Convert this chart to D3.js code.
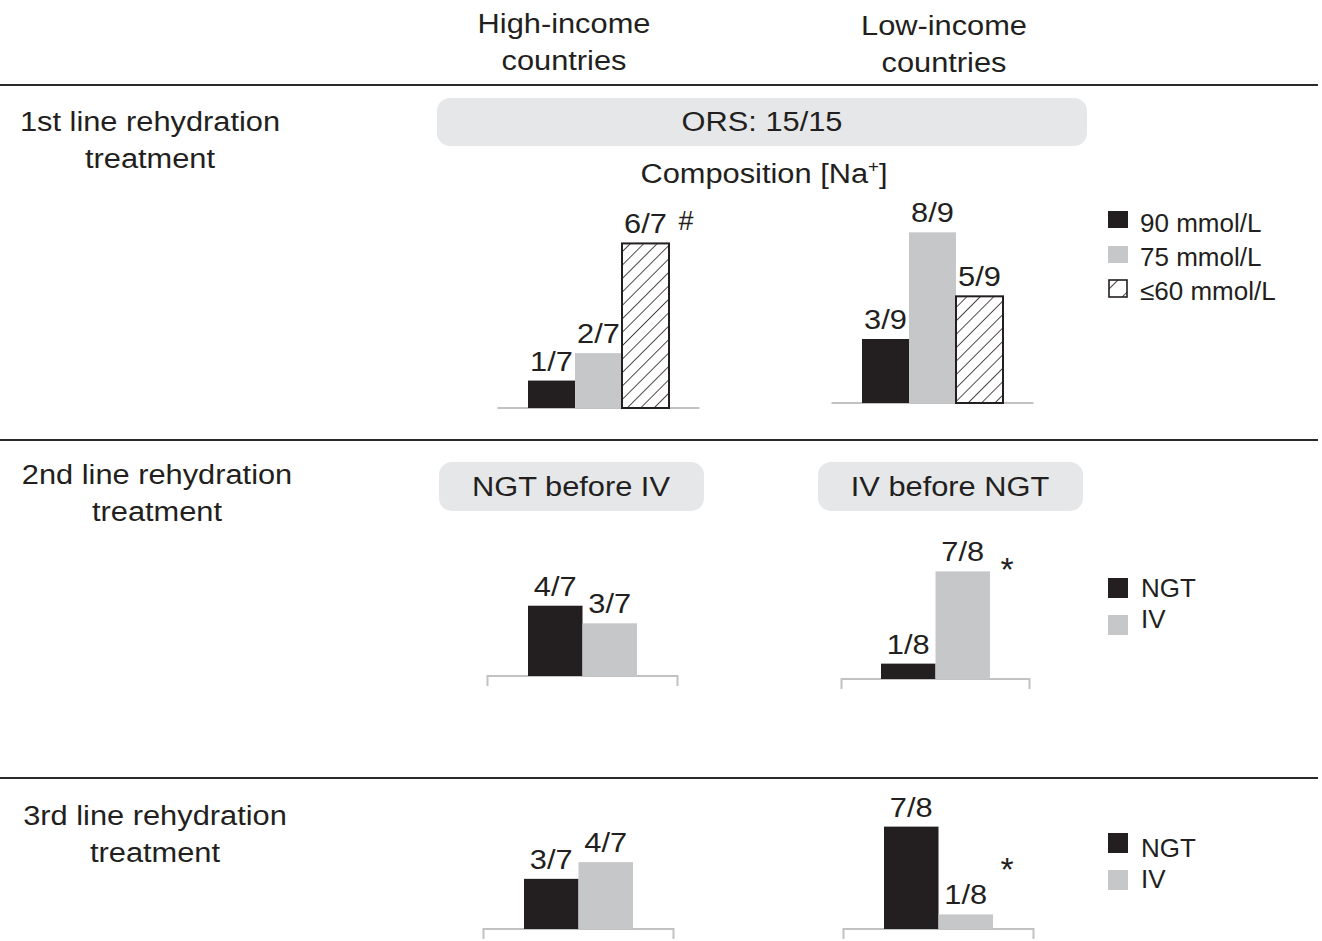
<!DOCTYPE html>
<html>
<head>
<meta charset="utf-8">
<script src="https://cdn.jsdelivr.net/npm/d3@7"></script>
<style>
  html, body { margin: 0; padding: 0; background: #fff; }
  svg text { font-family: "Liberation Sans", Arial, Helvetica, sans-serif; fill: #231f20; }
</style>
</head>
<body>
<svg id="chart" width="1322" height="941"></svg>
<script>
// ---------------- DATA ----------------
const columnTitles = [["High-income", "countries"], ["Low-income", "countries"]];
const rowTitles = [
  ["1st line rehydration", "treatment"],
  ["2nd line rehydration", "treatment"],
  ["3rd line rehydration", "treatment"]
];
const pillTexts = ["ORS: 15/15", "NGT before IV", "IV before NGT"];

const sodiumLevels = ["90 mmol/L", "75 mmol/L", "\u226460 mmol/L"];
const routes = ["NGT", "IV"];

const highORS = [1, 2, 6];      // of 7
const lowORS = [3, 8, 5];       // of 9
const highSecond = [4, 3];      // of 7
const lowSecond = [1, 7];       // of 8
const highThird = [3, 4];       // of 7
const lowThird = [7, 1];        // of 8

const highN = 7;
const lowNFirst = 9;
const lowNLater = 8;

// ---------------- SETUP ----------------
const svg = d3.select("#chart");
const BLACK = "#231f20", GRAY = "#c6c7c9", PILL = "#e6e7e8", AXIS = "#c2c2c2";
const SX = 1.1;

const defs = svg.append("defs");
defs.append("pattern")
  .attr("id", "hatch").attr("patternUnits", "userSpaceOnUse")
  .attr("width", 9.5).attr("height", 9.5)
  .attr("patternTransform", "rotate(45)")
  .append("line").attr("x1", 0).attr("y1", -1).attr("x2", 0).attr("y2", 11)
  .attr("stroke", BLACK).attr("stroke-width", 1.6);
defs.append("pattern")
  .attr("id", "hatchLegend").attr("patternUnits", "userSpaceOnUse")
  .attr("x", 1108).attr("y", 280)
  .attr("width", 15).attr("height", 15)
  .attr("patternTransform", "rotate(45)")
  .append("line").attr("x1", 0).attr("y1", -1).attr("x2", 0).attr("y2", 16)
  .attr("stroke", BLACK).attr("stroke-width", 1.6);

function stext(sel, x, y, s, size, anchor, sx) {
  return sel.append("text")
    .attr("transform", `translate(${x},${y}) scale(${sx === undefined ? SX : sx},1)`)
    .attr("text-anchor", anchor || "middle")
    .attr("font-size", size)
    .text(s);
}

// ---------------- HEADERS ----------------
const headerX = [564, 944];
const headerY = [[33, 70], [35, 72]];
columnTitles.forEach((lines, i) => {
  lines.forEach((l, j) => stext(svg, headerX[i], headerY[i][j], l, 28));
});

// separators
[85, 440, 778].forEach(y => {
  svg.append("line").attr("x1", 0).attr("x2", 1318).attr("y1", y).attr("y2", y)
    .attr("stroke", "#2a2a2a").attr("stroke-width", 2);
});

// row titles
const rowTitleX = [150, 157, 155];
const rowTitleY = [131, 484, 825];
rowTitles.forEach((lines, i) => {
  lines.forEach((l, j) => stext(svg, rowTitleX[i], rowTitleY[i] + j * 37, l, 28));
});

// pills
const pillBoxes = [
  { x: 437, y: 98, w: 650, h: 48, cx: 762, ty: 131 },
  { x: 439, y: 462, w: 265, h: 49, cx: 571, ty: 496 },
  { x: 818, y: 462, w: 265, h: 49, cx: 950, ty: 496 }
];
pillBoxes.forEach((b, i) => {
  svg.append("rect").attr("x", b.x).attr("y", b.y).attr("width", b.w).attr("height", b.h)
    .attr("rx", 13).attr("fill", PILL);
  stext(svg, b.cx, b.ty, pillTexts[i], 28);
});

// Composition [Na+]
const comp = svg.append("text")
  .attr("transform", `translate(764,183) scale(${SX},1)`)
  .attr("text-anchor", "middle").attr("font-size", 28);
comp.append("tspan").text("Composition [Na");
comp.append("tspan").attr("font-size", 17).attr("dy", -11).text("+");
comp.append("tspan").attr("dy", 11).text("]");

// ---------------- BAR PANELS ----------------
const fills = { first: [BLACK, GRAY, "url(#hatch)"], later: [BLACK, GRAY] };

const panels = [
  { cats: sodiumLevels, vals: highORS, n: highN, cx: 598.5, base: 408, half: 101, bw: 47, h: 192, fills: fills.first, ticks: false },
  { cats: sodiumLevels, vals: lowORS, n: lowNFirst, cx: 932.5, base: 403, half: 101, bw: 47, h: 192, fills: fills.first, ticks: false },
  { cats: routes, vals: highSecond, n: highN, cx: 582.5, base: 676, half: 95, bw: 54.5, h: 123, fills: fills.later, ticks: true },
  { cats: routes, vals: lowSecond, n: lowNLater, cx: 935.5, base: 679, half: 94, bw: 54.5, h: 123, fills: fills.later, ticks: true },
  { cats: routes, vals: highThird, n: highN, cx: 578.5, base: 929, half: 95, bw: 54.5, h: 117, fills: fills.later, ticks: true },
  { cats: routes, vals: lowThird, n: lowNLater, cx: 938.5, base: 929, half: 95, bw: 54.5, h: 117, fills: fills.later, ticks: true }
];

panels.forEach(p => {
  const g = svg.append("g");
  const x = d3.scaleBand().domain(p.cats)
    .range([p.cx - p.bw * p.cats.length / 2, p.cx + p.bw * p.cats.length / 2])
    .paddingInner(0).paddingOuter(0);
  const y = d3.scaleLinear().domain([0, 1]).range([p.base, p.base - p.h]);
  const data = p.cats.map((c, i) => ({ cat: c, v: p.vals[i], frac: p.vals[i] / p.n, fill: p.fills[i] }));

  // baseline axis
  const pts = p.ticks
    ? [[p.cx - p.half, p.base + 10], [p.cx - p.half, p.base], [p.cx + p.half, p.base], [p.cx + p.half, p.base + 10]]
    : [[p.cx - p.half, p.base], [p.cx + p.half, p.base]];
  g.append("path").attr("d", d3.line()(pts)).attr("fill", "none")
    .attr("stroke", AXIS).attr("stroke-width", 2);

  g.selectAll("rect.bar").data(data).join("rect")
    .attr("class", "bar")
    .attr("x", d => x(d.cat))
    .attr("width", x.bandwidth())
    .attr("y", d => y(d.frac))
    .attr("height", d => y(0) - y(d.frac))
    .attr("fill", d => d.fill)
    .attr("stroke", d => d.fill.startsWith("url") ? BLACK : "none")
    .attr("stroke-width", 2);

  data.forEach(d => {
    stext(g, x(d.cat) + x.bandwidth() / 2, y(d.frac) - 10, `${d.v}/${p.n}`, 28);
  });
});

// significance marks
stext(svg, 686, 230, "#", 27, "middle", 1);
stext(svg, 1007, 581, "*", 34, "middle", 1);
stext(svg, 1007, 881, "*", 34, "middle", 1);

// ---------------- LEGENDS ----------------
const legendFirst = sodiumLevels.map((s, i) => ({ label: s, fill: [BLACK, GRAY, "url(#hatchLegend)"][i] }));
const lgFirstY = [211, 246, 280];
const lgFirstTY = [232, 266, 300];
legendFirst.forEach((d, i) => {
  svg.append("rect").attr("x", d.fill.startsWith("url") ? 1109 : 1108).attr("y", lgFirstY[i])
    .attr("width", d.fill.startsWith("url") ? 18 : 20).attr("height", 17)
    .attr("fill", d.fill)
    .attr("stroke", d.fill.startsWith("url") ? BLACK : "none").attr("stroke-width", 1.6);
  stext(svg, 1140, lgFirstTY[i], d.label, 26, "start", 1);
});

const routeFills = [BLACK, GRAY];
[[578, 615, 597, 628], [833, 870, 857, 888]].forEach(([y1, y2, t1, t2]) => {
  [y1, y2].forEach((yy, i) => svg.append("rect").attr("x", 1108).attr("y", yy)
    .attr("width", 20).attr("height", 20).attr("fill", routeFills[i]));
  [t1, t2].forEach((ty, i) => stext(svg, 1141, ty, routes[i], 26, "start", 1));
});
</script>
</body>
</html>
